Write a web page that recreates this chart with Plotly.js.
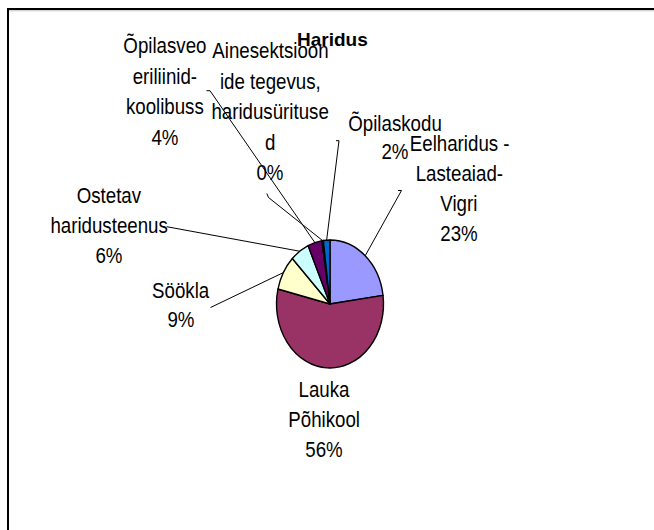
<!DOCTYPE html>
<html>
<head>
<meta charset="utf-8">
<script src="https://cdn.plot.ly/plotly-3.0.1.min.js"></script>
<style>html,body{margin:0;padding:0;background:#fff;}#chart{width:654px;height:530px;}</style>
</head>
<body>
<div id="chart"></div>
<script>
// ---- data ----
const chartTitle = "Haridus";
const categories = ["Eelharidus - Lasteaiad-Vigri", "Lauka Põhikool", "Söökla", "Ostetav haridusteenus",
  "Õpilasveo eriliinid-koolibuss", "Ainesektsioonide tegevus, haridusüritused", "Õpilaskodu"];
const values = [22.8, 55.8, 8.8, 5.7, 4.3, 0.4, 2.0];
const labelLines = [
  ["Eelharidus -", "Lasteaiad-", "Vigri"],
  ["Lauka", "Põhikool"],
  ["Söökla"],
  ["Ostetav", "haridusteenus"],
  ["Õpilasveo", "eriliinid-", "koolibuss"],
  ["Ainesektsioon", "ide tegevus,", "haridusürituse", "d"],
  ["Õpilaskodu"]
];
const colors = ["#9999FF", "#993366", "#FFFFCC", "#CCFFFF", "#660066", "#FF8080", "#0066CC"];

// ---- layout constants (pixels) ----
const W = 654, H = 530;
const CX = 330, CY = 304, R = 53.5, KY = 1.196;
const TEXT_SQUEEZE = 0.85;
const labelX  = [459, 324, 181, 109, 164.5, 270, 395];
const labelY0 = [143.7, 389.5, 290, 195, 45.6, 50.7, 123];
const lineGap = [29.8, 30, 29, 30, 30.5, 30.5, 29];
const leaderStart = [[401.5,190.5],[null,null],[210.5,307.5],[166.7,226.7],[210,90.7],[268.5,197.5],[339,140.7]];
const leaderTick  = [[398,190.5],[null,null],null,null,[206.5,90.7],[266.8,193.5],[336,140.7]];

const px = x => x / W;
const py = y => 1 - y / H;
const FONT = "Liberation Sans, Arial, sans-serif";

const total = values.reduce((a, b) => a + b, 0);
const pct = values.map(v => Math.round(v / total * 100) + "%");

const annotations = [];
labelLines.forEach((lines, i) => {
  const all = lines.concat([pct[i]]);
  all.forEach((t, j) => {
    annotations.push({
      xref: "paper", yref: "paper", x: px(labelX[i]), y: py(labelY0[i] + j * lineGap[i]),
      xanchor: "center", yanchor: "middle", text: t, showarrow: false,
      font: {family: FONT, size: 22, color: "#000"}
    });
  });
});
annotations.push({
  xref: "paper", yref: "paper", x: px(332), y: py(40), xanchor: "center", yanchor: "middle",
  text: "<b>" + chartTitle + "</b>", showarrow: false,
  font: {family: FONT, size: 19, color: "#000"}
});

// leader lines: from label to the middle of each slice's rim
const shapes = [];
let cum = 0;
values.forEach((v, i) => {
  const mid = (cum + v / 2) / total * 2 * Math.PI;
  cum += v;
  const s = leaderStart[i];
  if (s[0] === null) return;
  const tx = CX + R * Math.sin(mid), ty = CY - R * KY * Math.cos(mid);
  shapes.push({type: "line", xref: "paper", yref: "paper", x0: px(s[0]), y0: py(s[1]), x1: px(tx), y1: py(ty),
    line: {color: "#000", width: 1}});
  const t = leaderTick[i];
  if (t) shapes.push({type: "line", xref: "paper", yref: "paper", x0: px(t[0]), y0: py(t[1]), x1: px(s[0]), y1: py(s[1]),
    line: {color: "#000", width: 1}});
});
// frame
shapes.push({type: "line", xref: "paper", yref: "paper", x0: px(8), y0: py(9), x1: px(8), y1: py(531), line: {color: "#000", width: 2}});
shapes.push({type: "line", xref: "paper", yref: "paper", x0: px(7), y0: py(9), x1: px(655), y1: py(9), line: {color: "#000", width: 2}});
shapes.push({type: "line", xref: "paper", yref: "paper", x0: px(9), y0: py(10.8), x1: px(655), y1: py(10.8), line: {color: "#c0c0c0", width: 1}});

const trace = {
  type: "pie", labels: categories, values: values, sort: false, direction: "clockwise", rotation: 0,
  marker: {colors: colors, line: {color: "#000", width: 1.4}},
  textinfo: "none", hoverinfo: "none", showlegend: false,
  domain: {x: [px(CX - R), px(CX + R)], y: [py(CY + R), py(CY - R)]}
};

const layout = {
  width: W, height: H, margin: {l: 0, r: 0, t: 0, b: 0},
  paper_bgcolor: "#fff", plot_bgcolor: "#fff", showlegend: false,
  annotations: annotations, shapes: shapes
};

Plotly.newPlot("chart", [trace], layout, {staticPlot: true, displayModeBar: false}).then(gd => {
  // the source chart is stretched vertically: scale the pie into an ellipse about its centre
  const cd0 = gd.calcdata[0][0];
  const cx = (cd0 && cd0.cx) || CX, cy = (cd0 && cd0.cy) || CY;
  gd.querySelectorAll(".pielayer .trace").forEach(g => {
    g.setAttribute("transform", "translate(" + cx + "," + cy + ") scale(1," + KY + ") translate(" + (-cx) + "," + (-cy) + ")");
    g.querySelectorAll("path").forEach(p => p.setAttribute("vector-effect", "non-scaling-stroke"));
  });
  // the source's data labels are set in a condensed face: squeeze them horizontally about their centres
  gd.querySelectorAll(".annotation-text").forEach(t => {
    if (t.textContent === chartTitle) return;
    const b = t.getBBox();
    const mx = b.x + b.width / 2;
    t.setAttribute("transform", "translate(" + mx + ",0) scale(" + TEXT_SQUEEZE + ",1) translate(" + (-mx) + ",0)");
  });
});
</script>
</body>
</html>
